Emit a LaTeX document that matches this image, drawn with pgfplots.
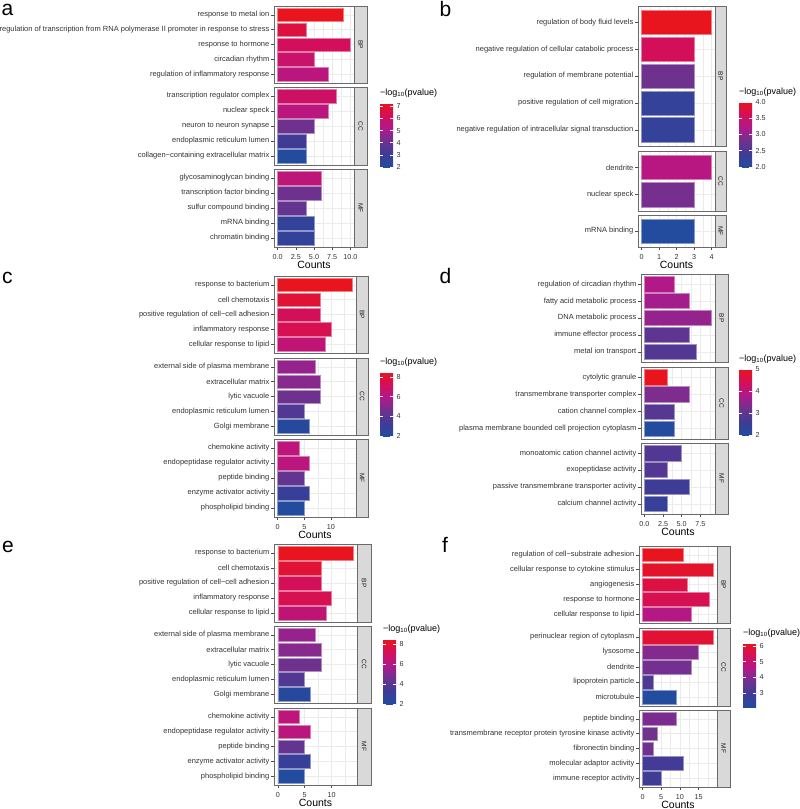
\documentclass[border=0pt]{standalone}
\usepackage{fontspec}
\setmainfont{Liberation Sans}
\usepackage{pgfplots}
\pgfplotsset{compat=1.18}

\definecolor{gridc}{HTML}{EBEBEB}
\definecolor{framec}{HTML}{6A6A6A}
\definecolor{tickc}{HTML}{4D4D4D}
\definecolor{stripc}{HTML}{D9D9D9}
\definecolor{txtc}{HTML}{333333}
\definecolor{s0}{RGB}{35,75,158}
\definecolor{s1}{RGB}{62,60,150}
\definecolor{s2}{RGB}{110,50,142}
\definecolor{s3}{RGB}{175,25,140}
\definecolor{s4}{RGB}{212,15,90}
\definecolor{s5}{RGB}{232,20,30}

\newcommand\fcat{\fontsize{7.5}{9}\selectfont}
\newcommand\ftick{\fontsize{7.2}{8}\selectfont}
\newcommand\fstrip{\fontsize{6.5}{7}\selectfont}
\newcommand\fcount{\fontsize{10.5}{12}\selectfont}
\newcommand\ftitle{\fontsize{9}{10}\selectfont}
\newcommand\fletter{\fontsize{21}{24}\selectfont}

\def\cmin{2}\def\cmax{8}
\newcommand\setc[2]{\gdef\cmin{#1}\gdef\cmax{#2}}
\newcommand\mapcol[2]{%
  \pgfmathsetmacro\mcT{max(0,min(1,(#1-\cmin)/(\cmax-\cmin)))}%
  \pgfmathtruncatemacro\mcK{min(4,floor(\mcT*5))}%
  \pgfmathtruncatemacro\mcN{\mcK+1}%
  \pgfmathtruncatemacro\mcP{round((\mcT*5-\mcK)*100)}%
  \xglobal\colorlet{#2}{s\mcN!\mcP!s\mcK}%
}
\newcounter{bc}
\newcommand\gb[3]{% count, position, -log10(p)
  \stepcounter{bc}%
  \mapcol{#3}{bc\thebc}%
  \edef\gbtmp{\noexpand\addplot[xbar, bar shift=0pt, bar width=0.9, fill=bc\thebc, draw=bc\thebc!55!white, line width=0.5pt] coordinates {(#1,#2)};}%
  \gbtmp
}
\newcommand\strip[5]{% x, top, height, width, label
  \draw[framec, line width=0.6pt, fill=stripc] (#1pt,-#2pt) rectangle ++(#4pt,-#3pt);
  \node[rotate=-90, font=\fstrip, text=black!90, inner sep=0pt] at ({#1pt+0.5*#4pt},{-#2pt-0.5*#3pt}) {#5};
}
\newcommand\cbar[7]{% x, top, height, min, max, ticks, labels
  \node[anchor=west, inner sep=0pt, font=\ftitle] at ({#1pt},{-#2pt+10pt}) {−log\textsubscript{10}(pvalue)};
  \begin{axis}[at={({#1pt-8.5pt},-#2pt)}, anchor=north west, hide axis, scale only axis, width=1pt, height=#3pt,
    colormap name=gomap, colorbar, point meta min=#4, point meta max=#5,
    colorbar style={at={(parent axis.north west)}, anchor=north west, xshift=0pt,
      scale only axis, width=13pt, height=#3pt, axis on top,
      axis line style={draw=none}, tick align=inside, ytick pos=both, yticklabel pos=right,
      major tick length=2.6pt, tick style={white, line width=0.6pt},
      ytick={#6}, yticklabels={#7},
      yticklabel style={font=\ftick, text=txtc, inner sep=0pt, anchor=west, xshift=3.5pt}}]
    \addplot[draw=none] coordinates {(0,0)};
  \end{axis}
}

\pgfplotsset{
  colormap={gomap}{rgb255=(35,75,158) rgb255=(62,60,150) rgb255=(110,50,142) rgb255=(175,25,140) rgb255=(212,15,90) rgb255=(232,20,30)},
  fac/.style={
    scale only axis, anchor=north west, y dir=reverse, ymin=0.4,
    axis line style={framec, line width=0.6pt},
    tick align=outside, tick pos=left,
    major tick length=2.7pt, minor tick length=0pt,
    tick style={tickc, line width=0.5pt},
    xmajorgrids=true, xminorgrids=true, ymajorgrids=true,
    major grid style={gridc, line width=0.6pt},
    minor grid style={gridc, line width=0.3pt},
    yticklabel style={font=\fcat, text=txtc, inner sep=0pt, anchor=east, xshift=-1.8pt},
    xticklabel style={font=\ftick, text=txtc, inner sep=0pt, anchor=north, yshift=-4.2pt},
    x label style={at={(axis description cs:0.5,0)}, anchor=base, yshift=-21pt, font=\fcount, inner sep=0pt},
  },
  top/.style={xticklabels={}, xtick style={draw=none}},
  bot/.style={xlabel={Counts}},
  y5/.style={ymax=5.6, ytick={1,2,3,4,5}},
  y4/.style={ymax=4.6, ytick={1,2,3,4}},
  y2/.style={ymax=2.6, ytick={1,2}},
  y1/.style={ymax=1.6, ytick={1}},
  pa/.style={width=80pt, xmin=-0.5, xmax=10.5, xtick={0,2.5,5,7.5,10}, xticklabels={0.0,2.5,5.0,7.5,10.0}, minor xtick={1.25,3.75,6.25,8.75}},
  pb/.style={width=77pt, xmin=-0.2, xmax=4.2, xtick={0,1,2,3,4}, xticklabels={0,1,2,3,4}, minor xtick={0.5,1.5,2.5,3.5}},
  pc/.style={width=82pt, xmin=-0.7, xmax=14.7, xtick={0,5,10}, xticklabels={0,5,10}, minor xtick={2.5,7.5,12.5}},
  pd/.style={width=74pt, xmin=-0.45, xmax=9.45, xtick={0,2.5,5,7.5}, xticklabels={0.0,2.5,5.0,7.5}, minor xtick={1.25,3.75,6.25,8.75}},
  pe/.style={width=83pt, xmin=-0.7, xmax=14.7, xtick={0,5,10}, xticklabels={0,5,10}, minor xtick={2.5,7.5,12.5}},
  pf/.style={width=78pt, xmin=-0.95, xmax=19.95, xtick={0,5,10,15}, xticklabels={0,5,10,15}, minor xtick={2.5,7.5,12.5,17.5}},
}

\begin{document}
\begin{tikzpicture}
\useasboundingbox (0,0) rectangle (800pt,-809pt);

% ---------------- panel a ----------------
\setc{2.0}{7.28}
\begin{axis}[fac, pa, top, y5, at={(274pt,-6pt)}, height=77pt,
  yticklabels={response to metal ion, regulation of transcription from RNA polymerase II promoter in response to stress, response to hormone, circadian rhythm, regulation of inflammatory response}]
\gb{9}{1}{7.28}\gb{4}{2}{6.7}\gb{10}{3}{6.2}\gb{5}{4}{5.9}\gb{7}{5}{5.5}
\end{axis}
\begin{axis}[fac, pa, top, y5, at={(274pt,-87pt)}, height=78pt,
  yticklabels={transcription regulator complex, nuclear speck, neuron to neuron synapse, endoplasmic reticulum lumen, collagen−containing extracellular matrix}]
\gb{8}{1}{6.0}\gb{7}{2}{5.5}\gb{5}{3}{4.1}\gb{4}{4}{3.1}\gb{4}{5}{2.0}
\end{axis}
\begin{axis}[fac, pa, bot, y5, at={(274pt,-169pt)}, height=78pt,
  yticklabels={glycosaminoglycan binding, transcription factor binding, sulfur compound binding, mRNA binding, chromatin binding}]
\gb{6}{1}{5.6}\gb{6}{2}{4.1}\gb{4}{3}{3.9}\gb{5}{4}{2.6}\gb{5}{5}{2.6}
\end{axis}
\strip{354}{6}{77}{13}{BP}
\strip{354}{87}{78}{13}{CC}
\strip{354}{169}{78}{13}{MF}
\cbar{380}{103}{64}{2.0}{7.28}{2,3,4,5,6,7}{2,3,4,5,6,7}
\node[anchor=base west, inner sep=0pt, font=\fletter] at (1.5pt,-15pt) {a};

% ---------------- panel b ----------------
\setc{2.0}{4.0}
\begin{axis}[fac, pb, top, y5, at={(638pt,-6pt)}, height=140pt,
  yticklabels={regulation of body fluid levels, negative regulation of cellular catabolic process, regulation of membrane potential, positive regulation of cell migration, negative regulation of intracellular signal transduction}]
\gb{4}{1}{4.0}\gb{3}{2}{3.6}\gb{3}{3}{2.8}\gb{3}{4}{2.25}\gb{3}{5}{2.25}
\end{axis}
\begin{axis}[fac, pb, top, y2, at={(638pt,-151pt)}, height=60pt,
  yticklabels={dendrite, nuclear speck}]
\gb{4}{1}{3.3}\gb{3}{2}{2.85}
\end{axis}
\begin{axis}[fac, pb, bot, y1, at={(638pt,-215pt)}, height=32pt,
  yticklabels={mRNA binding}]
\gb{3}{1}{2.0}
\end{axis}
\strip{715}{6}{140}{11}{BP}
\strip{715}{151}{60}{11}{CC}
\strip{715}{215}{32}{11}{MF}
\cbar{739}{102}{65}{2.0}{4.0}{2,2.5,3,3.5,4}{2.0,2.5,3.0,3.5,4.0}
\node[anchor=base west, inner sep=0pt, font=\fletter] at (439.5pt,-16.5pt) {b};

% ---------------- panel c ----------------
\setc{2.0}{8.5}
\begin{axis}[fac, pc, top, y5, at={(274pt,-276pt)}, height=77pt,
  yticklabels={response to bacterium, cell chemotaxis, positive regulation of cell−cell adhesion, inflammatory response, cellular response to lipid}]
\gb{14}{1}{8.5}\gb{8}{2}{8.0}\gb{8}{3}{7.2}\gb{10}{4}{7.4}\gb{9}{5}{6.5}
\end{axis}
\begin{axis}[fac, pc, top, y5, at={(274pt,-358pt)}, height=77pt,
  yticklabels={external side of plasma membrane, extracellular matrix, lytic vacuole, endoplasmic reticulum lumen, Golgi membrane}]
\gb{7}{1}{5.4}\gb{8}{2}{5.1}\gb{8}{3}{4.6}\gb{5}{4}{3.8}\gb{6}{5}{2.2}
\end{axis}
\begin{axis}[fac, pc, bot, y5, at={(274pt,-439pt)}, height=78pt,
  yticklabels={chemokine activity, endopeptidase regulator activity, peptide binding, enzyme activator activity, phospholipid binding}]
\gb{4}{1}{6.4}\gb{6}{2}{6.3}\gb{5}{3}{4.3}\gb{6}{4}{3.0}\gb{5}{5}{2.0}
\end{axis}
\strip{356}{276}{77}{12}{BP}
\strip{356}{358}{77}{12}{CC}
\strip{356}{439}{78}{12}{MF}
\cbar{380}{372}{64}{2.0}{8.5}{2,4,6,8}{2,4,6,8}
\node[anchor=base west, inner sep=0pt, font=\fletter] at (2pt,-283pt) {c};

% ---------------- panel d ----------------
\setc{2.0}{5.0}
\begin{axis}[fac, pd, top, y5, at={(641pt,-274pt)}, height=88pt,
  yticklabels={regulation of circadian rhythm, fatty acid metabolic process, DNA metabolic process, immune effector process, metal ion transport}]
\gb{4}{1}{3.85}\gb{6}{2}{3.7}\gb{9}{3}{3.55}\gb{6}{4}{3.0}\gb{7}{5}{2.85}
\end{axis}
\begin{axis}[fac, pd, top, y4, at={(641pt,-367pt)}, height=72pt,
  yticklabels={cytolytic granule, transmembrane transporter complex, cation channel complex, plasma membrane bounded cell projection cytoplasm}]
\gb{3}{1}{5.0}\gb{6}{2}{3.35}\gb{4}{3}{2.9}\gb{4}{4}{2.0}
\end{axis}
\begin{axis}[fac, pd, bot, y4, at={(641pt,-443pt)}, height=71pt,
  yticklabels={monoatomic cation channel activity, exopeptidase activity, passive transmembrane transporter activity, calcium channel activity}]
\gb{5}{1}{2.85}\gb{3}{2}{2.85}\gb{6}{3}{2.6}\gb{3}{4}{2.45}
\end{axis}
\strip{715}{274}{88}{13}{BP}
\strip{715}{367}{72}{13}{CC}
\strip{715}{443}{71}{13}{MF}
\cbar{739}{369}{66}{2.0}{5.0}{2,3,4,5}{2,3,4,5}
\node[anchor=base west, inner sep=0pt, font=\fletter] at (439.5pt,-283pt) {d};

% ---------------- panel e ----------------
\setc{2.0}{8.5}
\begin{axis}[fac, pe, top, y5, at={(274pt,-544pt)}, height=78pt,
  yticklabels={response to bacterium, cell chemotaxis, positive regulation of cell−cell adhesion, inflammatory response, cellular response to lipid}]
\gb{14}{1}{8.5}\gb{8}{2}{8.0}\gb{8}{3}{7.2}\gb{10}{4}{7.4}\gb{9}{5}{6.5}
\end{axis}
\begin{axis}[fac, pe, top, y5, at={(274pt,-626pt)}, height=77pt,
  yticklabels={external side of plasma membrane, extracellular matrix, lytic vacuole, endoplasmic reticulum lumen, Golgi membrane}]
\gb{7}{1}{5.4}\gb{8}{2}{5.1}\gb{8}{3}{4.6}\gb{5}{4}{3.8}\gb{6}{5}{2.2}
\end{axis}
\begin{axis}[fac, pe, bot, y5, at={(274pt,-708pt)}, height=77pt,
  yticklabels={chemokine activity, endopeptidase regulator activity, peptide binding, enzyme activator activity, phospholipid binding}]
\gb{4}{1}{6.4}\gb{6}{2}{6.3}\gb{5}{3}{4.3}\gb{6}{4}{3.0}\gb{5}{5}{2.0}
\end{axis}
\strip{357}{544}{78}{14}{BP}
\strip{357}{626}{77}{14}{CC}
\strip{357}{708}{77}{14}{MF}
\cbar{383}{639}{65}{2.0}{8.5}{2,4,6,8}{2,4,6,8}
\node[anchor=base west, inner sep=0pt, font=\fletter] at (2pt,-552.5pt) {e};

% ---------------- panel f ----------------
\setc{2.1}{6.2}
\begin{axis}[fac, pf, top, y5, at={(639pt,-546pt)}, height=77pt,
  yticklabels={regulation of cell−substrate adhesion, cellular response to cytokine stimulus, angiogenesis, response to hormone, cellular response to lipid}]
\gb{11}{1}{6.2}\gb{19}{2}{6.0}\gb{12}{3}{5.7}\gb{18}{4}{5.5}\gb{13}{5}{4.7}
\end{axis}
\begin{axis}[fac, pf, top, y5, at={(639pt,-628pt)}, height=78pt,
  yticklabels={perinuclear region of cytoplasm, lysosome, dendrite, lipoprotein particle, microtubule}]
\gb{19}{1}{5.9}\gb{15}{2}{4.0}\gb{13}{3}{3.8}\gb{3}{4}{3.2}\gb{9}{5}{2.1}
\end{axis}
\begin{axis}[fac, pf, bot, y5, at={(639pt,-710pt)}, height=77pt,
  yticklabels={peptide binding, transmembrane receptor protein tyrosine kinase activity, fibronectin binding, molecular adaptor activity, immune receptor activity}]
\gb{9}{1}{3.9}\gb{4}{2}{3.75}\gb{3}{3}{3.7}\gb{11}{4}{3.0}\gb{5}{5}{2.95}
\end{axis}
\strip{717}{546}{77}{13}{BP}
\strip{717}{628}{78}{13}{CC}
\strip{717}{710}{77}{13}{MF}
\cbar{743}{643}{64}{2.1}{6.2}{3,4,5,6}{3,4,5,6}
\node[anchor=base west, inner sep=0pt, font=\fletter] at (442pt,-552.5pt) {f};

\end{tikzpicture}
\end{document}
